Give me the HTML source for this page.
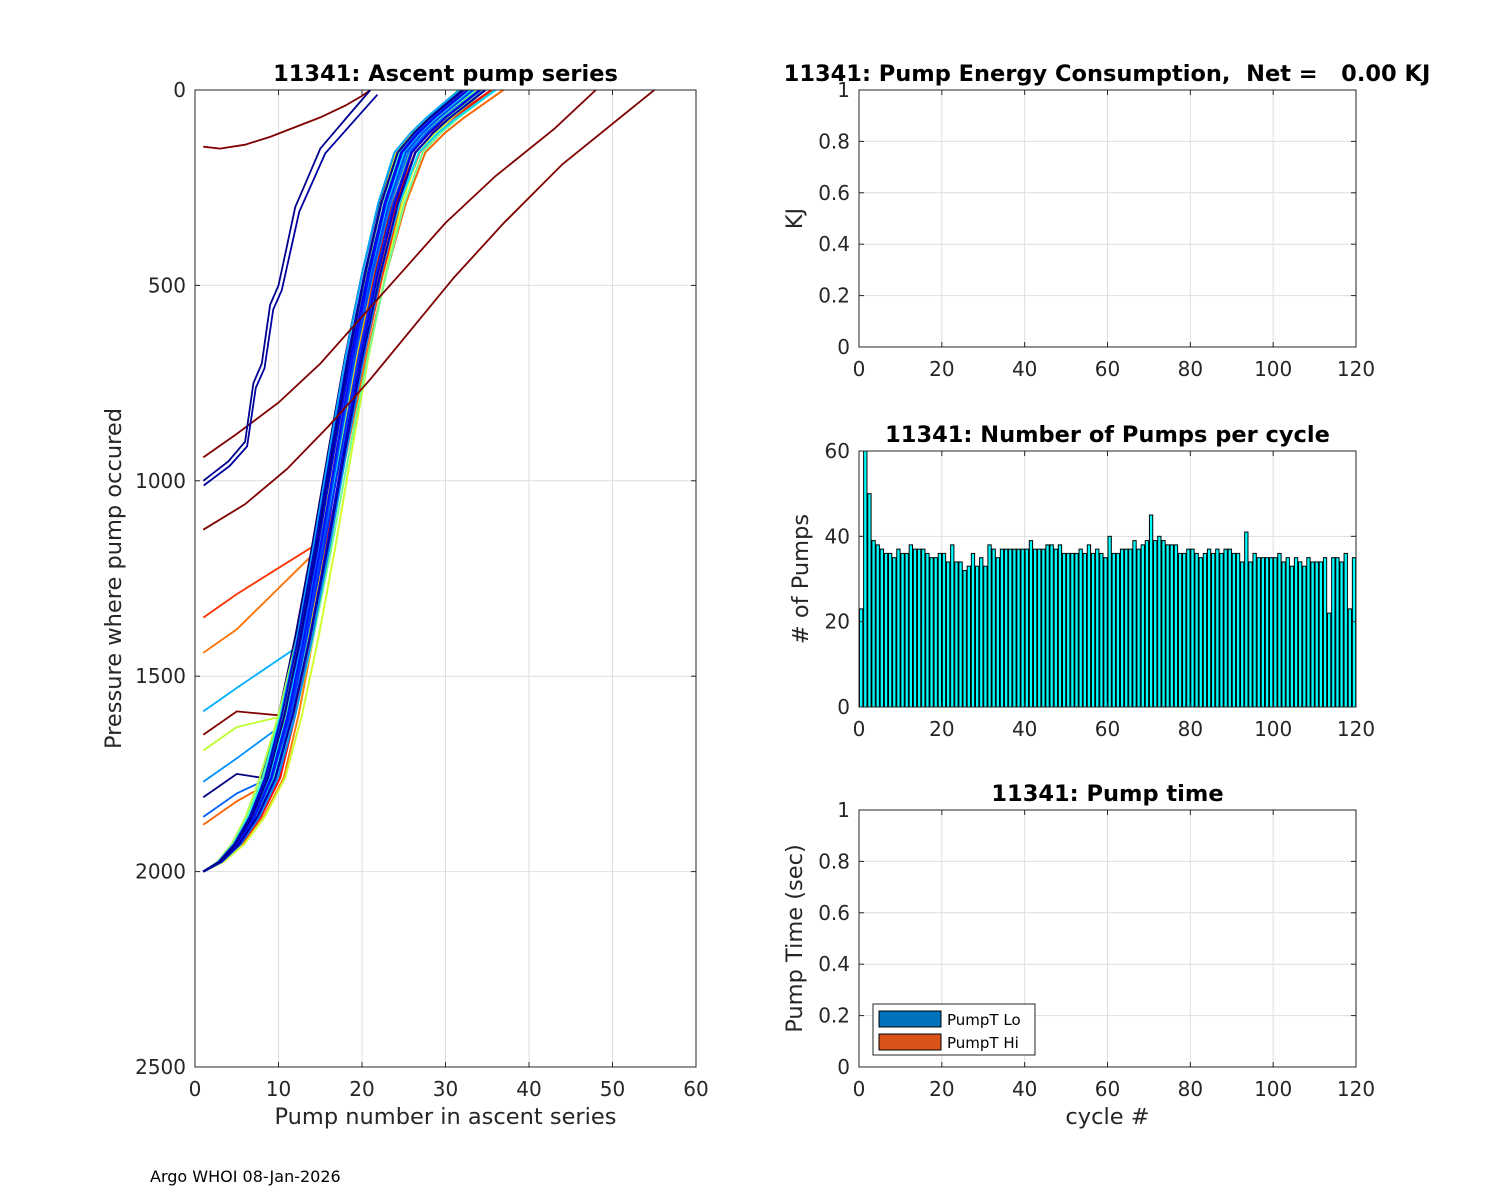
<!DOCTYPE html>
<html><head><meta charset="utf-8">
<style>
html,body{margin:0;padding:0;background:#fff;}
svg{display:block;font-family:"DejaVu Sans","Liberation Sans",sans-serif;}
</style></head>
<body>
<svg id="fig" width="1500" height="1200" viewBox="0 0 1500 1200" xmlns="http://www.w3.org/2000/svg">
<rect width="1500" height="1200" fill="#fff"/>
<g id="ascent"></g>
<g id="energy"></g>
<g id="pumps"></g>
<g id="ptime"></g>
<text x="150" y="1182" font-size="16" fill="#000">Argo WHOI 08-Jan-2026</text>
</svg>
<script>
// ---- data ----
const pumpCounts = [23,60,50,39,38,37,36,36,35,37,36,36,38,37,37,37,36,35,35,36,36,34,38,34,34,32,33,36,33,35,33,38,37,35,37,37,37,37,37,37,37,39,37,37,37,38,38,37,38,36,36,36,36,37,36,38,36,37,36,35,40,36,36,37,37,37,39,37,38,39,45,39,40,39,38,38,38,36,36,37,37,36,35,36,37,36,37,36,37,37,36,36,34,41,34,36,35,35,35,35,35,36,34,35,33,35,34,33,35,34,34,34,35,22,35,35,34,36,23,35];
const basePump = [1,3,5,7,9,11,13,15,17,19,21,23,25,27,29,31,33];
const basePres = [2000,1975,1930,1860,1760,1600,1400,1170,920,680,470,290,160,110,70,35,0];
const bundleScale = [1.0,1.08,0.93,1.14,0.9,1.02,1.1,0.96,1.17,0.89,1.0,1.05,0.95,1.07,0.93,1.03,1.0,1.12,0.98,1.01,1.09,0.92,1.06,0.99,1.02,0.96,1.15,1.0,0.97,1.03,1.06,0.94,1.01,1.04,0.98,1.0,1.02,0.99,1.05,0.97];
const bundleShift = [0.5,-1,1.5,-2,2,0,-0.5,1,-1.5,2.5,0.3,-0.8,1.2,-1.2,0.8,-0.3,1.8,-2.2,0.6,-0.6,0.1,1.4,-1.4,0.4,-0.2,0.9,-1.8,0.2,-0.4,0.7,-0.9,1.1,0.0,-0.1,0.3,-0.3,0.5,-0.5,0.2,0.0];
const tailStart = [1350,1440,1590,1650,1690,1770,1810,1860,1880];
const tailColor = ["#ff3000","#ff7000","#00b0ff","#800000","#c0ff30","#0090ff","#000080","#0060ff","#ff6000"];
const outlierA_p = [145,150,140,120,95,70,40,15,0];
const outlierA_x = [1,3,6,9,12,15,18,20,21];
const outlierB_p = [940,880,800,700,580,460,340,220,100,0];
const outlierB_x = [1,5,10,15,20,25,30,36,43,48];
const outlierC_p = [1125,1060,970,860,740,610,480,340,190,0];
const outlierC_x = [1,6,11,16,21,26,31,37,44,55];
const navy_p = [1000,950,900,750,700,550,500,400,300,250,150,100,50,0];
const navy_x = [1,4,6,7,8,9,10,11,12,13,15,17,19,21];

const NS="http://www.w3.org/2000/svg";
function el(tag,attrs,parent){const e=document.createElementNS(NS,tag);for(const k in attrs)e.setAttribute(k,attrs[k]);parent.appendChild(e);return e;}
function txt(s,attrs,parent){const e=el('text',attrs,parent);e.textContent=s;return e;}
function jet(t){const r=Math.max(0,Math.min(1,1.5-Math.abs(4*t-3))),g=Math.max(0,Math.min(1,1.5-Math.abs(4*t-2))),b=Math.max(0,Math.min(1,1.5-Math.abs(4*t-1)));return `rgb(${Math.round(r*255)},${Math.round(g*255)},${Math.round(b*255)})`;}

function axes(g,L,T,R,B,xt,yt,xs,ys){
  for(const v of xt){const x=xs(v);el('line',{x1:x,y1:T,x2:x,y2:B,stroke:'#dedede','stroke-width':1},g);}
  for(const v of yt){const y=ys(v);el('line',{x1:L,y1:y,x2:R,y2:y,stroke:'#dedede','stroke-width':1},g);}
}
function frame(g,L,T,R,B,xt,yt,xs,ys,xlab,ylab,title,yfmt){
  el('rect',{x:L,y:T,width:R-L,height:B-T,fill:'none',stroke:'#262626','stroke-width':1},g);
  for(const v of xt){const x=xs(v);el('line',{x1:x,y1:B,x2:x,y2:B-5,stroke:'#262626'},g);el('line',{x1:x,y1:T,x2:x,y2:T+5,stroke:'#262626'},g);
    const t=txt(String(v),{x:x,y:B+29,'font-size':20,'text-anchor':'middle',fill:'#262626'},g);}
  for(const v of yt){const y=ys(v);el('line',{x1:L,y1:y,x2:L+5,y2:y,stroke:'#262626'},g);el('line',{x1:R,y1:y,x2:R-5,y2:y,stroke:'#262626'},g);
    const t=txt(yfmt?yfmt(v):String(v),{x:L-9,y:y+7,'font-size':20,'text-anchor':'end',fill:'#262626'},g);}
  if(title){const t=txt(title,{x:(L+R)/2,y:T-9,'font-size':22.5,'font-weight':'bold','text-anchor':'middle',fill:'#000'},g);}
  if(xlab){const t=txt(xlab,{x:(L+R)/2,y:B+57,'font-size':22.5,'text-anchor':'middle',fill:'#262626'},g);}
  if(ylab){const cy=(T+B)/2;const t=txt(ylab.s,{x:ylab.x,y:cy,'font-size':22.5,'text-anchor':'middle',fill:'#262626',transform:`rotate(-90 ${ylab.x} ${cy})`},g);}
}

// ---- ascent chart ----
(function(){
  const g=document.getElementById('ascent');
  const L=195,T=90,R=696,B=1067;
  const xs=v=>L+(v/60)*(R-L), ys=v=>T+(v/2500)*(B-T);
  const xt=[0,10,20,30,40,50,60], yt=[0,500,1000,1500,2000,2500];
  axes(g,L,T,R,B,xt,yt,xs,ys);
  const clip=el('clipPath',{id:'cA'},g);el('rect',{x:L,y:T,width:R-L,height:B-T},clip);
  const lines=el('g',{'clip-path':'url(#cA)'},g);
  function poly(xa,pa,color,w){const pts=xa.map((x,i)=>xs(x).toFixed(1)+','+ys(pa[i]).toFixed(1)).join(' ');
    const p=el('polyline',{points:pts,fill:'none',stroke:color,'stroke-width':w||1.8},lines);
    }
  tailStart.forEach((p0,k)=>{
    const xa=[1],pa=[p0];
    basePres.forEach((p,i)=>{if(p<p0-40){xa.push(basePump[i]*1.0+(k%3-1));pa.push(p);}});
    xa.splice(1,0,5);pa.splice(1,0,p0-60);
    poly(xa,pa,tailColor[k]);
  });
  const n=bundleScale.length;
  for(let k=0;k<n;k++){
    const t=1-k/(n-1);
    const xa=basePump.map((b,i)=>1+(b-1)*bundleScale[k]+bundleShift[k]*Math.min(1,(b-1)/8));
    poly(xa,basePres,jet(t*0.95+0.02),2);
  }
  poly(outlierA_x,outlierA_p,'#800000');
  poly(outlierB_x,outlierB_p,'#800000');
  poly(outlierC_x,outlierC_p,'#800000');
  poly(navy_x,navy_p,'#000090');
  poly(navy_x.map(x=>x*1.04),navy_p.map(p=>p+12),'#0000a0');
  frame(g,L,T,R,B,xt,yt,xs,ys,'Pump number in ascent series',{x:121,s:'Pressure where pump occured'},'11341: Ascent pump series');
})();

// ---- energy chart ----
(function(){
  const g=document.getElementById('energy');
  const L=859,T=90,R=1356,B=347;
  const xs=v=>L+(v/120)*(R-L), ys=v=>B-(v/1)*(B-T);
  const xt=[0,20,40,60,80,100,120], yt=[0,0.2,0.4,0.6,0.8,1];
  axes(g,L,T,R,B,xt,yt,xs,ys);
  frame(g,L,T,R,B,xt,yt,xs,ys,null,{x:802,s:'KJ'},null,v=>String(v));
  const t=txt('11341: Pump Energy Consumption,\u00a0 Net = \u00a0 0.00 KJ',{x:1107,y:81,'font-size':22.5,'font-weight':'bold','text-anchor':'middle',fill:'#000'},g);
  
})();

// ---- pumps per cycle ----
(function(){
  const g=document.getElementById('pumps');
  const L=859,T=451,R=1356,B=707;
  const xs=v=>L+(v/120)*(R-L), ys=v=>B-(v/60)*(B-T);
  const xt=[0,20,40,60,80,100,120], yt=[0,20,40,60];
  axes(g,L,T,R,B,xt,yt,xs,ys);
  const bw=(xs(1)-xs(0))*0.8;
  pumpCounts.forEach((v,i)=>{
    const c=i;const y=ys(v);
    const r=el('rect',{x:(xs(c)+0.5).toFixed(2),y:y.toFixed(2),width:bw.toFixed(2),height:(B-y).toFixed(2),fill:'#00ffff',stroke:'#000','stroke-width':1},g);
    
  });
  frame(g,L,T,R,B,xt,yt,xs,ys,null,{x:808,s:'# of Pumps'},'11341: Number of Pumps per cycle');
})();

// ---- pump time ----
(function(){
  const g=document.getElementById('ptime');
  const L=859,T=810,R=1356,B=1067;
  const xs=v=>L+(v/120)*(R-L), ys=v=>B-(v/1)*(B-T);
  const xt=[0,20,40,60,80,100,120], yt=[0,0.2,0.4,0.6,0.8,1];
  axes(g,L,T,R,B,xt,yt,xs,ys);
  frame(g,L,T,R,B,xt,yt,xs,ys,'cycle #',{x:802,s:'Pump Time (sec)'},'11341: Pump time',v=>String(v));
  const lg=el('g',{},g);
  el('rect',{x:873,y:1004,width:162,height:51,fill:'#fff',stroke:'#262626','stroke-width':1},lg);
  const e1=el('rect',{x:879,y:1011,width:62,height:16,fill:'#0072bd',stroke:'#000'},lg);
  const e2=el('rect',{x:879,y:1034,width:62,height:16,fill:'#d95319',stroke:'#000'},lg);
  const a=txt('PumpT Lo',{x:947,y:1025,'font-size':15,fill:'#000'},lg);
  const b=txt('PumpT Hi',{x:947,y:1048,'font-size':15,fill:'#000'},lg);
})();
</script>
</body></html>
